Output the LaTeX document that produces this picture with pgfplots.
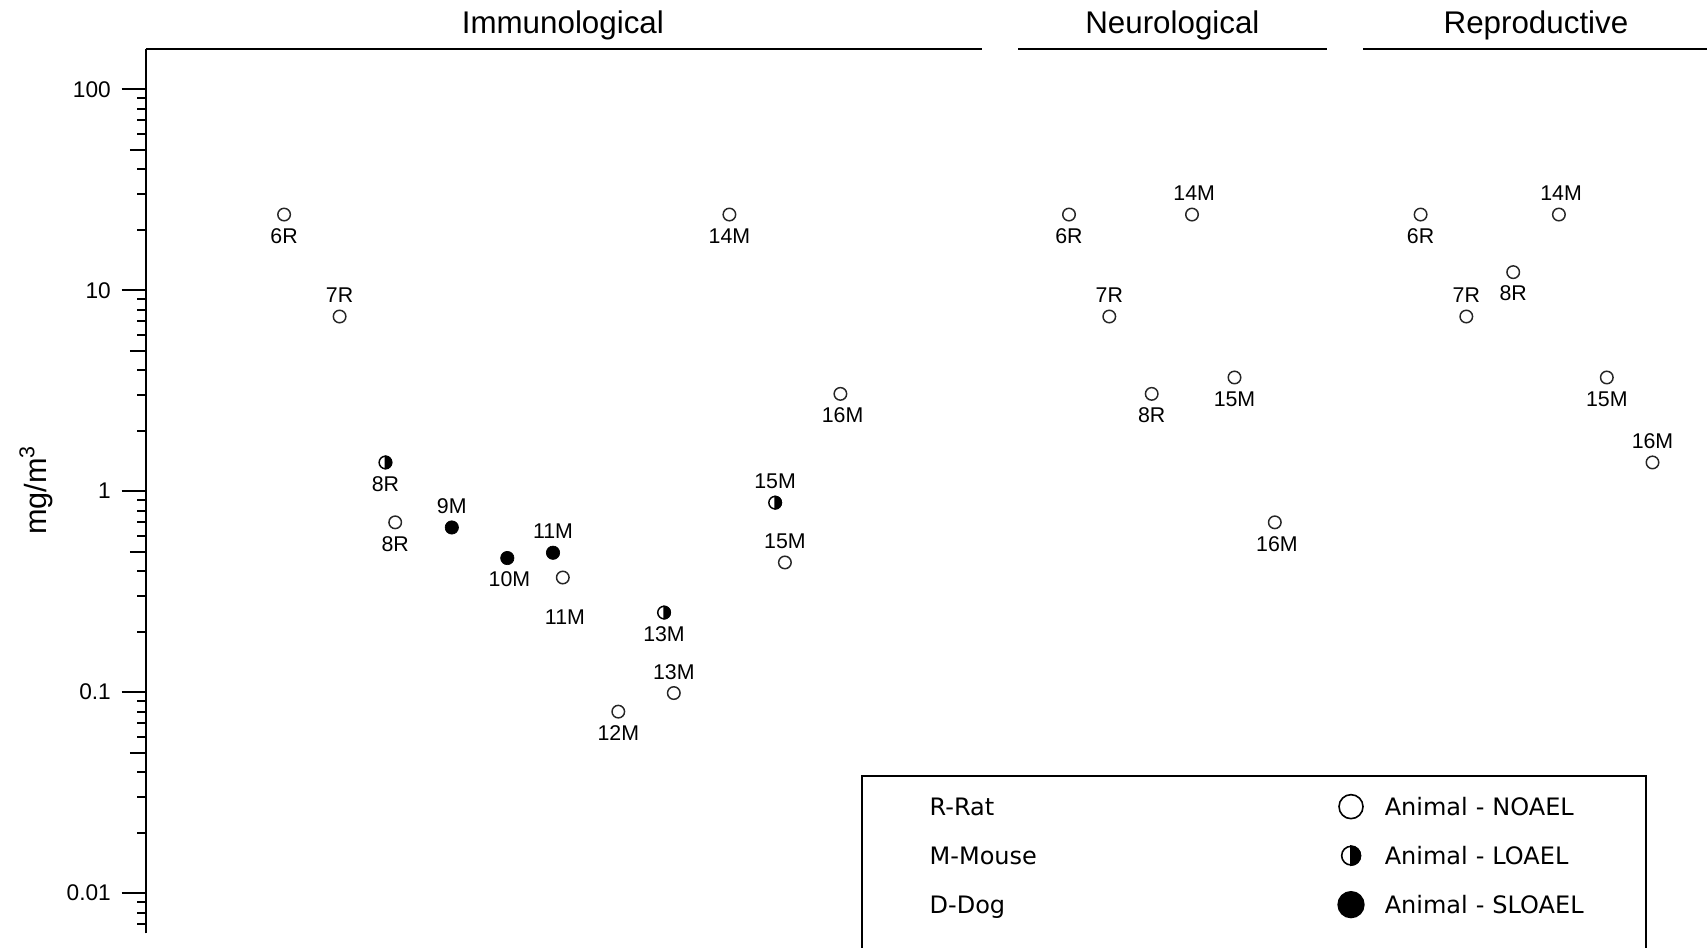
\documentclass[border=0pt]{standalone}
\usepackage{fontspec}
\setmainfont{Liberation Sans}
\newfontfamily\dejavu{DejaVu Sans}
\usepackage{pgfplots}
\usepackage{pgfplotstable}
\pgfplotsset{compat=1.18}

% half filled circle, right half black
\pgfdeclareplotmark{halfo}{%
  \pgfpathcircle{\pgfpointorigin}{\pgfplotmarksize}\pgfusepathqstroke
  \pgfpathmoveto{\pgfqpoint{0pt}{\pgfplotmarksize}}%
  \pgfpatharc{90}{-90}{\pgfplotmarksize}\pgfpathclose
  \pgfusepathqfillstroke}

% x = position (px), y = mg/m3, dx/dy = label offset (pt)
\pgfplotstableread{
x      y      lab  dx   dy
284.1  23.8   6R   0    -16
339.6  7.4    7R   0     16
395.2  0.70   8R   0    -16
562.8  0.372  11M  1.6  -30
618.3  0.080  12M  0    -16
673.8  0.099  13M  0     16
729.4  23.8   14M  0    -16
784.9  0.442  15M  0     16
840.4  3.05   16M  1.6  -16
1069.0 23.8   6R   0    -16
1109.3 7.4    7R   0     16
1151.7 3.05   8R   0    -16
1192.0 23.8   14M  1.6   16
1234.5 3.68   15M  0    -16
1274.8 0.70   16M  1.6  -16
1420.6 23.8   6R   0    -16
1466.3 7.4    7R   0     16
1513.2 12.3   8R   0    -16
1558.9 23.8   14M  1.6   16
1606.8 3.68   15M  0    -16
1652.5 1.39   16M  0     16
}\noael

\pgfplotstableread{
x      y      lab  dx   dy
385.4  1.39   8R   0    -16
664.0  0.249  13M  0    -16
775.1  0.877  15M  0     16
}\loael

\pgfplotstableread{
x      y      lab  dx   dy
451.8  0.66   9M   0     16
507.3  0.465  10M  1.6  -16
553.0  0.494  11M  0     16
}\sloael

\pgfplotsset{
  lbl/.style={
    only marks, forget plot,
    nodes near coords, point meta=explicit symbolic,
    visualization depends on={\thisrow{dx}\as\ldx},
    visualization depends on={\thisrow{dy}\as\ldy},
    nodes near coords align={center},
    every node near coord/.append style={anchor=center, xshift=\ldx*1pt, yshift=\ldy*1pt,
      font=\fontsize{16pt}{19pt}\selectfont, text=black, inner sep=0pt},
  },
  blank/.style={legend image code/.code={\path[draw=none, fill=none] (0pt,-10.7pt) rectangle (50.7pt,10.7pt);}},
}

\begin{document}
\begin{tikzpicture}
\path[use as bounding box] (0,0) rectangle (1280.25pt,711pt);
\begin{axis}[
  at={(109.5pt,11pt)}, anchor=south west,
  scale only axis, width=1172.25pt, height=663.2pt,
  xmin=146, xmax=1709,
  ymode=log, ymin=0.00631, ymax=158.5,
  axis x line=none, axis y line*=left,
  axis line style={line width=1.8pt, black, -},
  ytick={0.01,0.1,1,10,100},
  yticklabels={0.01,0.1,1,10,100},
  minor ytick={0.007,0.008,0.009,0.02,0.03,0.04,0.06,0.07,0.08,0.09,
    0.2,0.3,0.4,0.6,0.7,0.8,0.9,2,3,4,6,7,8,9,20,30,40,60,70,80,90},
  extra y ticks={0.05,0.5,5,50},
  extra y tick labels={},
  extra y tick style={major tick length=12pt},
  tick align=outside, major tick length=18.2pt, minor tick length=6.5pt,
  every tick/.style={black, line width=1.5pt},
  yticklabel style={font=\fontsize{17pt}{20pt}\selectfont, inner sep=0pt, xshift=-8pt},
  /pgf/number format/assume math mode=true,
  ylabel={mg/m\textsuperscript{3}},
  every axis y label/.style={at={(axis description cs:-0.0704,0.501)}, rotate=90,
    anchor=center, font=\fontsize{23pt}{26pt}\selectfont},
  clip=false,
  legend columns=2,
  legend cell align=left,
  legend style={
    at={(rel axis cs:0.4575,0.179)}, anchor=north west,
    draw=black, line width=1.5pt, fill=white,
    inner xsep=0pt, inner ysep=12.25pt, row sep=15.35pt,
    font=\dejavu\fontsize{18pt}{21pt}\selectfont,
    nodes={inner sep=0pt, text height=17.4pt, text depth=4pt, text width=196pt, align=left},
    /tikz/column 1/.style={column sep=0pt},
    /tikz/column 2/.style={column sep=108pt},
    /tikz/column 3/.style={column sep=13.3pt},
  },
]
\addplot[lbl, mark=o, mark size=4.7pt, draw=black!85, line width=1.1pt]
  table[x=x, y=y, meta=lab]{\noael};
\addplot[lbl, mark=halfo, mark size=4.7pt, draw=black, fill=black, line width=1.1pt]
  table[x=x, y=y, meta=lab]{\loael};
\addplot[lbl, mark=*, mark size=5pt, draw=black, fill=black, line width=0.5pt]
  table[x=x, y=y, meta=lab]{\sloael};

% legend, two columns: species and marker
\addlegendimage{blank}
\addlegendentry{R-Rat}
\addlegendimage{legend image code/.code={\path[draw=none, fill=none] (-12pt,-10.7pt) rectangle (12pt,10.7pt);
  \draw[black, line width=1.2pt, fill=none] (0pt,0pt) circle (9pt);}}
\addlegendentry{Animal - NOAEL}
\addlegendimage{blank}
\addlegendentry{M-Mouse}
\addlegendimage{legend image code/.code={\path[draw=none, fill=none] (-12pt,-10.7pt) rectangle (12pt,10.7pt);
  \draw[black, line width=1.2pt, fill=none] (0pt,0pt) circle (7pt);
  \fill[black] (0pt,7pt) arc[start angle=90, end angle=-90, radius=7pt] -- cycle;}}
\addlegendentry{Animal - LOAEL}
\addlegendimage{blank}
\addlegendentry{D-Dog}
\addlegendimage{legend image code/.code={\path[draw=none, fill=none] (-12pt,-10.7pt) rectangle (12pt,10.7pt);
  \fill[black] (0pt,0pt) circle (9.5pt);}}
\addlegendentry{Animal - SLOAEL}
\addlegendimage{blank}
\addlegendentry{}
\addlegendimage{legend image code/.code={\path[draw=none, fill=none] (-12pt,-10.7pt) rectangle (12pt,10.7pt);}}
\addlegendentry{}

% group headers
\draw[line width=2pt] (rel axis cs:0,1) -- (rel axis cs:0.5347,1);
\draw[line width=2pt] (rel axis cs:0.5581,1) -- (rel axis cs:0.7554,1);
\draw[line width=2pt] (rel axis cs:0.7788,1) -- (rel axis cs:1,1);
\node[yshift=17.6pt, font=\fontsize{23.5pt}{28pt}\selectfont] at (rel axis cs:0.2667,1) {Immunological};
\node[yshift=17.6pt, font=\fontsize{23.5pt}{28pt}\selectfont] at (rel axis cs:0.6567,1) {Neurological};
\node[yshift=17.6pt, font=\fontsize{23.5pt}{28pt}\selectfont] at (rel axis cs:0.8893,1) {Reproductive};
\end{axis}
\end{tikzpicture}
\end{document}
